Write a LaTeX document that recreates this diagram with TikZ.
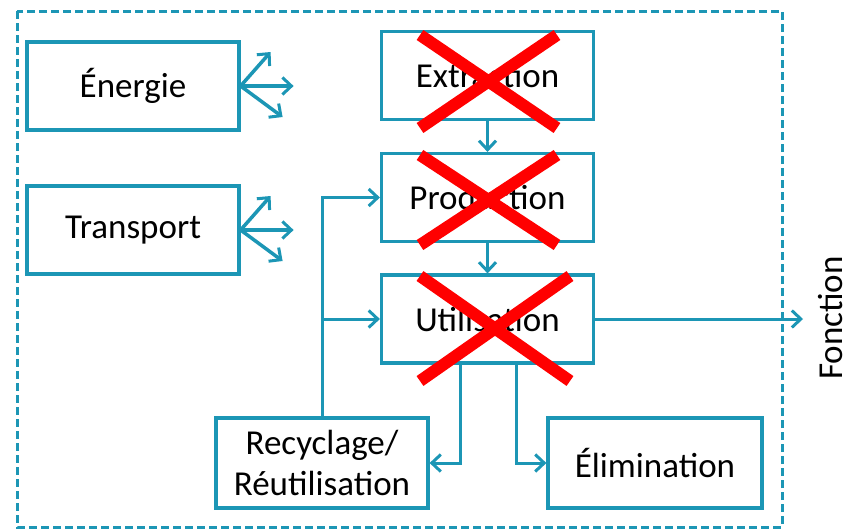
\documentclass[tikz,border=0pt]{standalone}
\usepackage{fontspec}
\setmainfont{Carlito}
\usepackage{xcolor}
\usepackage{tikz}
\usetikzlibrary{arrows.meta,positioning,calc}

\definecolor{cycleteal}{RGB}{28,150,181}
\definecolor{crossred}{RGB}{255,0,0}

\begin{document}
\begin{tikzpicture}[
  x=1pt,y=-1pt,
  font=\fontsize{35}{41}\selectfont,
  lbox/.style={draw=cycleteal,line width=3.2pt,fill=white,minimum width=212pt,minimum height=88pt,align=center,inner sep=0pt},
  arr/.style={-{Straight Barb[length=9pt,width=17pt,line width=3pt]},draw=cycleteal,line width=3pt},
  fan/.style={arr,line width=3.5pt},
  nope/.style={draw=crossred,line width=12pt}
]
\useasboundingbox (0,0) rectangle (851,531);
\draw[cycleteal,line width=3pt,dash pattern=on 8pt off 4pt] (17,11) rectangle (782,527);

\node[lbox] (energie) at (133,86) {Énergie};
\node[lbox] (transport) at (133,230) {Transport};
\node[lbox] (extraction) at (487.5,75.5) {Extraction};
\node[lbox] (production) at (487.5,197.5) {Production};
\node[lbox] (utilisation) at (487.5,319) {Utilisation};
\node[lbox,minimum height=90pt] (recyclage) at (322,463) {Recyclage/\\Réutilisation};
\node[lbox,minimum width=214pt,minimum height=90pt] (elimination) at (655,463) {Élimination};
\node[rotate=90,inner sep=0pt] (fonction) at (831,318) {Fonction};
\coordinate (sortie) at (803,319);

% energie et transport vers l'exterieur
\foreach \src in {energie,transport}{
  \draw[fan] (\src.east) -- ++(30,-34);
  \draw[fan] (\src.east) -- ++(53,0);
  \draw[fan] (\src.east) -- ++(42,31);
}

\draw[arr] (extraction) -- (production);
\draw[arr] (production) -- (utilisation);
\draw[arr] (utilisation) -- (sortie);
\draw[arr] (recyclage.north) |- (production.west);
\draw[arr] (recyclage.north |- utilisation.west) -- (utilisation.west);
\draw[arr] ([xshift=-27.5pt]utilisation.south) |- (recyclage.east);
\draw[arr] ([xshift=28.5pt]utilisation.south) |- (elimination.west);

% croix rouges
\draw[nope] (420,35) -- (557,128) (557,35) -- (420,128);
\draw[nope] (420,155) -- (557,245) (557,155) -- (420,245);
\draw[nope] (420,276) -- (570,381) (570,276) -- (420,381);
\end{tikzpicture}
\end{document}
